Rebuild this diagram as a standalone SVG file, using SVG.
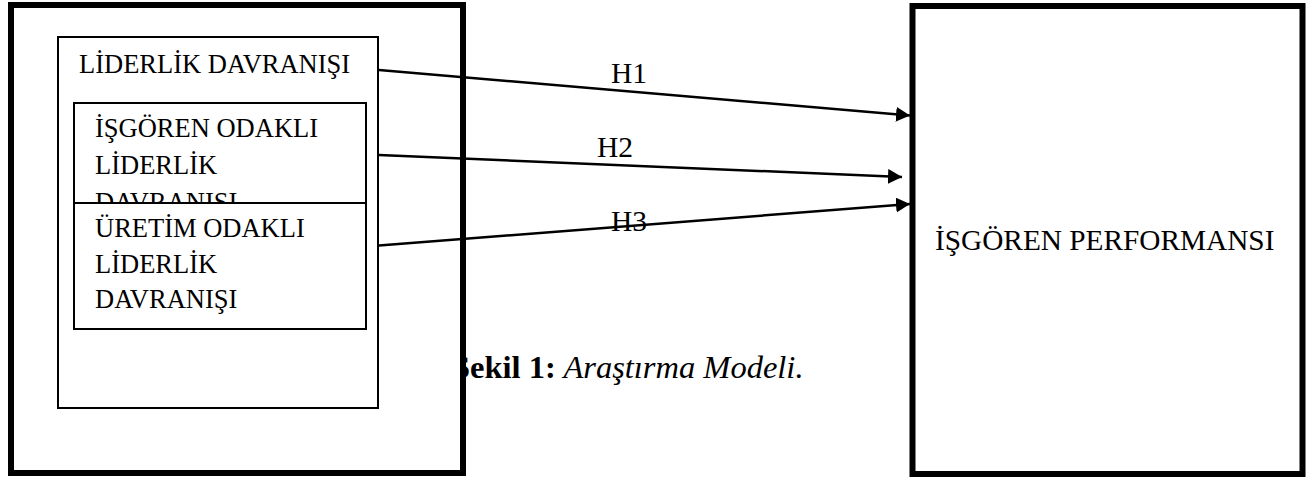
<svg xmlns="http://www.w3.org/2000/svg" width="1311" height="477" viewBox="0 0 1311 477">
<defs>
<style>
.t{font-family:"Liberation Serif","Times New Roman",serif;fill:#000}
.box{fill:#fff;stroke:#000}
.con{stroke:#000;stroke-width:2.5;fill:none}
</style>
<marker id="ah" markerUnits="userSpaceOnUse" markerWidth="16" markerHeight="16" refX="14" refY="7.5" orient="auto">
<path d="M0,0 L14,7.5 L0,15 Z" fill="#000"/>
</marker>
<clipPath id="clip2"><rect x="74" y="103" width="292" height="100"/></clipPath>
</defs>
<rect width="1311" height="477" fill="#fff"/>
<text id="caption" class="t" x="452" y="378" font-size="32.5"><tspan font-weight="bold">Şekil 1:</tspan><tspan font-style="italic"> Araştırma Modeli.</tspan></text>
<g id="outer-left">
<rect class="box" x="11" y="5" width="452" height="468" stroke-width="6"/>
</g>
<g id="liderlik">
<rect class="box" x="58" y="37" width="320" height="371" stroke-width="2"/>
<text class="t" x="79" y="73" font-size="26.5">LİDERLİK DAVRANIŞI</text>
</g>
<g id="isgoren-odakli">
<rect class="box" x="74" y="103" width="292" height="100" stroke-width="2"/>
<text class="t" font-size="26.5" clip-path="url(#clip2)"><tspan x="95" y="137">İŞGÖREN ODAKLI</tspan><tspan x="95" y="174">LİDERLİK</tspan><tspan x="95" y="211">DAVRANIŞI</tspan></text>
</g>
<g id="uretim-odakli">
<rect class="box" x="74" y="203" width="292" height="126" stroke-width="2"/>
<text class="t" font-size="26.5"><tspan x="95" y="237">ÜRETİM ODAKLI</tspan><tspan x="95" y="273">LİDERLİK</tspan><tspan x="95" y="308">DAVRANIŞI</tspan></text>
</g>
<g id="performans">
<rect class="box" x="912.5" y="6" width="390" height="468" stroke-width="6"/>
<text class="t" x="935" y="250" font-size="29.3">İŞGÖREN PERFORMANSI</text>
</g>
<g id="connectors">
<line class="con" x1="379" y1="70" x2="910" y2="115.5" marker-end="url(#ah)"/>
<line class="con" x1="379" y1="155" x2="902" y2="177" marker-end="url(#ah)"/>
<line class="con" x1="379" y1="245.5" x2="910" y2="204" marker-end="url(#ah)"/>
<text class="t" x="611" y="83" font-size="29.5">H1</text>
<text class="t" x="597" y="157" font-size="29.5">H2</text>
<text class="t" x="611" y="231" font-size="29.5">H3</text>
</g>
</svg>
